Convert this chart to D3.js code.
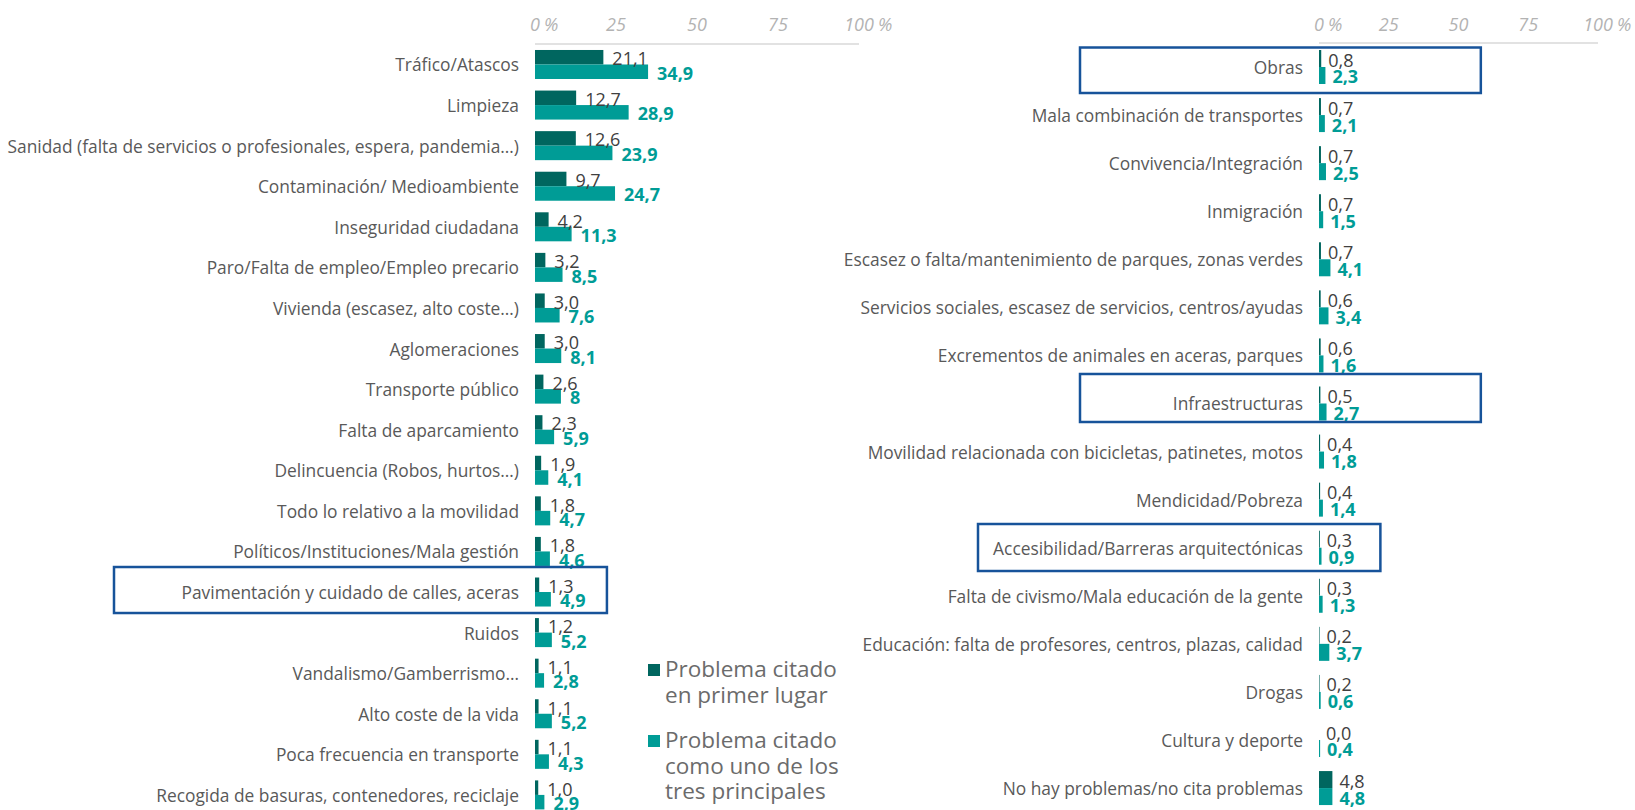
<!DOCTYPE html>
<html><head><meta charset="utf-8">
<script src="https://cdn.jsdelivr.net/npm/d3@7"></script>
<style>
html,body{margin:0;padding:0;background:#fff;}
svg{display:block;}
</style></head>
<body>
<svg id="chart" width="1635" height="810"></svg>
<script>
// ---------------- DATA ----------------
const leftCategories = [
  "Tráfico/Atascos","Limpieza","Sanidad (falta de servicios o profesionales, espera, pandemia…)",
  "Contaminación/ Medioambiente","Inseguridad ciudadana","Paro/Falta de empleo/Empleo precario",
  "Vivienda (escasez, alto coste…)","Aglomeraciones","Transporte público","Falta de aparcamiento",
  "Delincuencia (Robos, hurtos…)","Todo lo relativo a la movilidad","Políticos/Instituciones/Mala gestión",
  "Pavimentación y cuidado de calles, aceras","Ruidos","Vandalismo/Gamberrismo…","Alto coste de la vida",
  "Poca frecuencia en transporte","Recogida de basuras, contenedores, reciclaje"
];
const leftPrimero = [21.1,12.7,12.6,9.7,4.2,3.2,3.0,3.0,2.6,2.3,1.9,1.8,1.8,1.3,1.2,1.1,1.1,1.1,1.0];
const leftTres    = [34.9,28.9,23.9,24.7,11.3,8.5,7.6,8.1,8,5.9,4.1,4.7,4.6,4.9,5.2,2.8,5.2,4.3,2.9];
const leftTresLabels = ["34,9","28,9","23,9","24,7","11,3","8,5","7,6","8,1","8","5,9","4,1","4,7","4,6","4,9","5,2","2,8","5,2","4,3","2,9"];

const rightCategories = [
  "Obras","Mala combinación de transportes","Convivencia/Integración","Inmigración",
  "Escasez o falta/mantenimiento de parques, zonas verdes","Servicios sociales, escasez de servicios, centros/ayudas",
  "Excrementos de animales en aceras, parques","Infraestructuras","Movilidad relacionada con bicicletas, patinetes, motos",
  "Mendicidad/Pobreza","Accesibilidad/Barreras arquitectónicas","Falta de civismo/Mala educación de la gente",
  "Educación: falta de profesores, centros, plazas, calidad","Drogas","Cultura y deporte","No hay problemas/no cita problemas"
];
const rightPrimero = [0.8,0.7,0.7,0.7,0.7,0.6,0.6,0.5,0.4,0.4,0.3,0.3,0.2,0.2,0.0,4.8];
const rightTres    = [2.3,2.1,2.5,1.5,4.1,3.4,1.6,2.7,1.8,1.4,0.9,1.3,3.7,0.6,0.4,4.8];

const axisTicks = [0,25,50,75,100];
const seriesNames = ["Problema citado en primer lugar","Problema citado como uno de los tres principales"];
const legendLines = [["Problema citado","en primer lugar"],["Problema citado","como uno de los","tres principales"]];
const highlighted = ["Pavimentación y cuidado de calles, aceras","Obras","Infraestructuras","Accesibilidad/Barreras arquitectónicas"];

// ---------------- STYLE ----------------
const C_DARK = "#00665f", C_TEAL = "#009c96", C_BOX = "#17539a";
const FONT = "'Open Sans', 'DejaVu Sans', sans-serif";
const svg = d3.select("#chart");

const fmt = v => d3.format(".1f")(v).replace(".", ",");

// measure helper for font fitting
const meas = svg.append("text").attr("font-family", FONT).attr("font-size", 100).attr("opacity", 0);
function fitSize(str, target, weight) {
  meas.attr("font-weight", weight || "normal").text(str);
  const w = meas.node().getComputedTextLength();
  return 100 * target / w;
}
const catSize = Math.min(17.5, fitSize(leftCategories[2], 512));
const legSize = Math.min(22.5, fitSize("Problema citado", 172));
meas.remove();

function panel(cfg) {
  const x = d3.scaleLinear().domain([0, 100]).range(cfg.xRange);
  const y = d3.scaleBand().domain(cfg.cats).range(cfg.yRange).paddingInner(cfg.pad).paddingOuter(cfg.pad / 2);
  const sub = d3.scaleBand().domain(["p", "t"]).range([0, y.bandwidth()]);
  const g = svg.append("g");

  // axis line
  g.append("line").attr("x1", x(0)).attr("x2", x(100)).attr("y1", cfg.axisY).attr("y2", cfg.axisY)
    .attr("stroke", "#d9d9d9").attr("stroke-width", 1.5);
  // tick labels
  axisTicks.forEach(t => {
    const tx = g.append("text").attr("x", x(t)).attr("y", cfg.tickY)
      .attr("text-anchor", "middle").attr("dominant-baseline", "central")
      .attr("font-family", FONT).attr("font-style", "italic").attr("font-size", 18)
      .attr("fill", "#b3b3b3").text(t);
    if (t === 0 || t === 100) {
      const bb = tx.node().getBBox();
      g.append("text").attr("x", bb.x + bb.width + 4).attr("y", cfg.tickY)
        .attr("dominant-baseline", "central")
        .attr("font-family", FONT).attr("font-style", "italic").attr("font-size", 18)
        .attr("fill", "#b3b3b3").text("%");
    }
  });

  const rows = cfg.cats.map((c, i) => ({c, p: cfg.prim[i], t: cfg.tres[i], tl: cfg.tresLabels ? cfg.tresLabels[i] : fmt(cfg.tres[i])}));
  const row = g.selectAll("g.row").data(rows).join("g").attr("class", "row")
    .attr("transform", d => `translate(0,${y(d.c)})`);

  row.append("rect").attr("x", x(0)).attr("y", sub("p")).attr("height", sub.bandwidth())
    .attr("width", d => x(d.p) - x(0)).attr("fill", C_DARK);
  row.append("rect").attr("x", x(0)).attr("y", sub("t")).attr("height", sub.bandwidth())
    .attr("width", d => x(d.t) - x(0)).attr("fill", C_TEAL);

  row.append("text").attr("x", x(0) - 16).attr("y", y.bandwidth() / 2)
    .attr("text-anchor", "end").attr("dominant-baseline", "central")
    .attr("font-family", FONT).attr("font-size", catSize).attr("fill", "#595959").text(d => d.c);

  row.append("text").attr("x", d => x(d.p) + cfg.gap).attr("y", sub("p") + sub.bandwidth() / 2 + 1)
    .attr("dominant-baseline", "central").attr("font-family", FONT).attr("font-size", 18)
    .attr("fill", "#404040").text(d => fmt(d.p));
  row.append("text").attr("x", d => x(d.t) + cfg.gap).attr("y", sub("t") + sub.bandwidth() / 2 + 1)
    .attr("dominant-baseline", "central").attr("font-family", FONT).attr("font-size", 18)
    .attr("font-weight", "bold").attr("fill", C_TEAL).text(d => d.tl);

  // highlight boxes
  cfg.boxes.forEach(b => {
    const cy = y(b.cat) + y.bandwidth() / 2;
    g.append("rect").attr("x", x(0) + b.dx0).attr("y", cy + b.dy0)
      .attr("width", x(b.v1) - x(0) - b.dx0).attr("height", b.dy1 - b.dy0)
      .attr("fill", "none").attr("stroke", C_BOX).attr("stroke-width", 2.5);
  });
}

panel({
  cats: leftCategories, prim: leftPrimero, tres: leftTres, tresLabels: leftTresLabels,
  xRange: [535, 859], yRange: [44.2, 815.2], pad: 0.285, axisY: 44, tickY: 24, gap: 9,
  boxes: [{cat: highlighted[0], dx0: -421, v1: 22.2, dy0: -25, dy1: 21}]
});
panel({
  cats: rightCategories, prim: rightPrimero, tres: rightTres,
  xRange: [1319, 1598], yRange: [42.97, 812.1], pad: 0.293, axisY: 43, tickY: 24, gap: 7,
  boxes: [
    {cat: highlighted[1], dx0: -239, v1: 58, dy0: -19.5, dy1: 26},
    {cat: highlighted[2], dx0: -239, v1: 58, dy0: -29.5, dy1: 18.5},
    {cat: highlighted[3], dx0: -341, v1: 22, dy0: -23.7, dy1: 23.3}
  ]
});

// legend
const leg = svg.append("g");
const legColors = [C_DARK, C_TEAL];
const legTop = [664, 735];
legendLines.forEach((lines, i) => {
  leg.append("rect").attr("x", 648).attr("y", legTop[i]).attr("width", 12).attr("height", 12).attr("fill", legColors[i]);
  const t = leg.append("text").attr("font-family", FONT).attr("font-size", legSize).attr("fill", "#6b6b6b")
    .attr("x", 665).attr("y", legTop[i] + 13);
  t.append("title").text(seriesNames[i]);
  lines.forEach((l, j) => t.append("tspan").attr("x", 665).attr("dy", j === 0 ? 0 : 25.5).text(l));
});
</script>
</body></html>
